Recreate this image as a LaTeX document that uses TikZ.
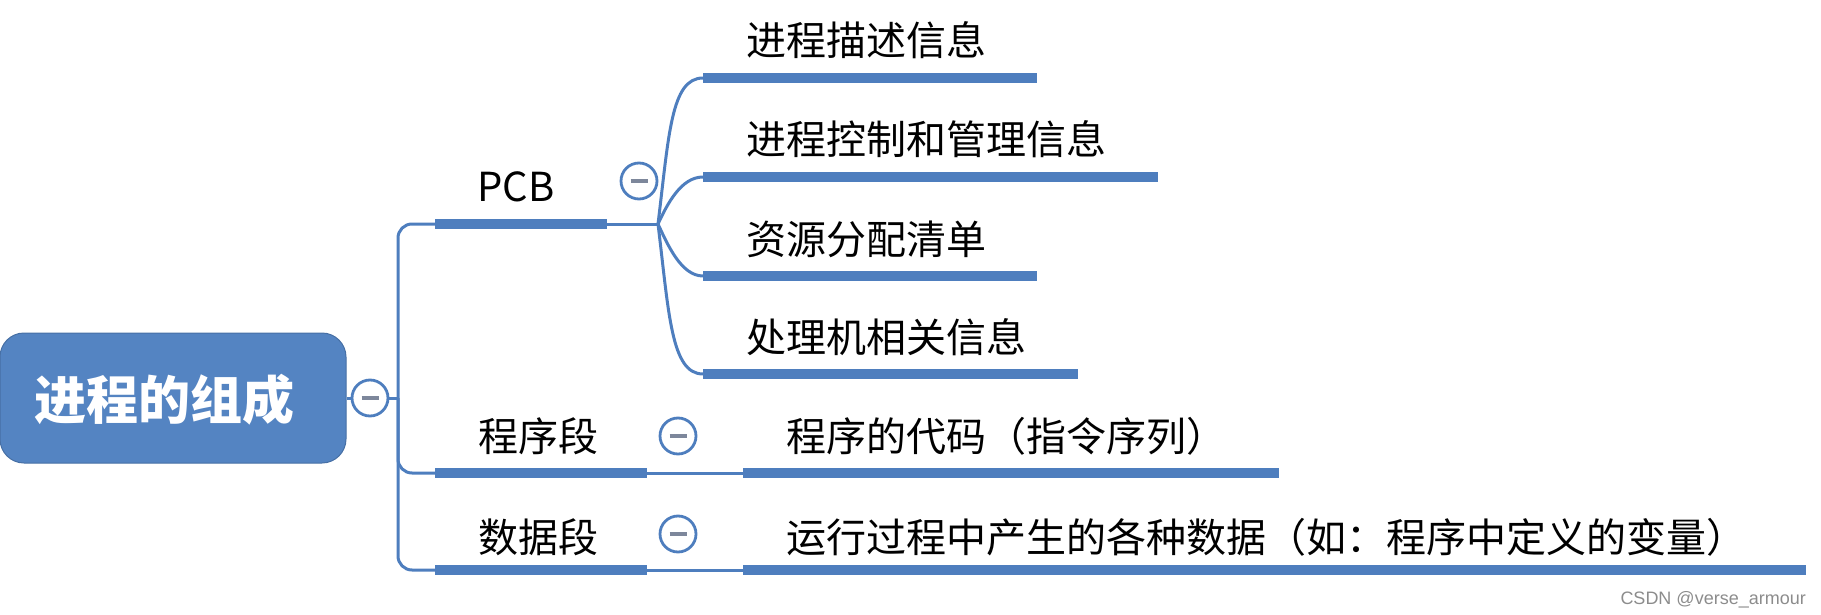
\documentclass[tikz,border=0pt]{standalone}
\usepackage{fontspec}
\newfontfamily\cjk{Noto Sans CJK SC}
\newfontfamily\wmfont{Liberation Sans}
\definecolor{mmblue}{RGB}{78,126,190}
\definecolor{rootblue}{RGB}{84,132,194}
\definecolor{minusgrey}{RGB}{125,135,155}
\begin{document}
\begin{tikzpicture}[x=1pt,y=-1pt,
  bar/.style={fill=mmblue, draw=none, inner sep=0pt, minimum height=10pt, anchor=west},
  conn/.style={draw=mmblue, line width=3pt},
  lbl/.style={anchor=base west, inner sep=0pt, text=black, font=\cjk\fontsize{40}{48}\selectfont},
  fold/.style={circle, draw=mmblue, line width=2.8pt, fill=white, minimum size=36pt, inner sep=0pt}
]
\useasboundingbox (0,0) rectangle (1821,615);

% root
\node[draw=rootblue!85!black, fill=rootblue, rounded corners=24pt, minimum width=346pt, minimum height=130pt, inner sep=0pt, line width=1pt] (root) at (173,398) {};
\node[anchor=base west, inner sep=0pt, text=white, font=\cjk\bfseries\fontsize{52}{60}\selectfont] (roottext) at (34,419) {进程的组成};
\node[fold] (rootfold) at (370,398) {{\color{minusgrey}\rule{17pt}{3.5pt}}};
\coordinate (spine) at (398,398);

% level 2 bars
\node[bar, minimum width=172pt] (pcbbar) at (435,224) {};
\node[bar, minimum width=212pt] (prgbar) at (435,473) {};
\node[bar, minimum width=212pt] (datbar) at (435,570) {};

\node[anchor=base west, inner sep=0pt, font=\cjk\fontsize{40}{48}\selectfont] (pcbtext) at (477,201) {PCB};
\node[lbl] (prgtext) at (478,451) {程序段};
\node[lbl] (dattext) at (478,552) {数据段};

\node[fold] (pcbfold) at (639,181) {{\color{minusgrey}\rule{17pt}{3.5pt}}};
\node[fold] (prgfold) at (678,436) {{\color{minusgrey}\rule{17pt}{3.5pt}}};
\node[fold] (datfold) at (678,534) {{\color{minusgrey}\rule{17pt}{3.5pt}}};

% PCB children
\coordinate (fork) at (658,224);
\node[bar, minimum width=334pt] (c1) at (703,78) {};
\node[bar, minimum width=455pt] (c2) at (703,177) {};
\node[bar, minimum width=334pt] (c3) at (703,276) {};
\node[bar, minimum width=375pt] (c4) at (703,374) {};
\node[lbl] (t1) at (746,56) {进程描述信息};
\node[lbl] (t2) at (746,155) {进程控制和管理信息};
\node[lbl] (t3) at (746,254) {资源分配清单};
\node[lbl] (t4) at (746,352) {处理机相关信息};

% other children
\node[bar, minimum width=536pt] (prgchild) at (743,473) {};
\node[bar, minimum width=1063pt] (datchild) at (743,570) {};
\node[lbl] (prgctext) at (786,451) {程序的代码（指令序列）};
\node[lbl] (datctext) at (786,552) {运行过程中产生的各种数据（如：程序中定义的变量）};

% connectors
\draw[conn] (root.east) -- (rootfold.west);
\draw[conn] (rootfold.east) -- (spine);
\draw[conn, rounded corners=14pt] (spine) |- (pcbbar.west);
\draw[conn, rounded corners=14pt] (spine) |- (prgbar.west);
\draw[conn, rounded corners=14pt] (spine) |- (datbar.west);
\draw[conn] (pcbbar.east) -- (fork);
\draw[conn] (fork) to[out=83, in=180, out distance=90pt, in distance=32pt] (c1.west);
\draw[conn] (fork) to[out=65, in=180, out distance=22pt, in distance=22pt] (c2.west);
\draw[conn] (fork) to[out=-65, in=180, out distance=22pt, in distance=22pt] (c3.west);
\draw[conn] (fork) to[out=-83, in=180, out distance=90pt, in distance=32pt] (c4.west);
\draw[conn] (prgbar.east) -- (prgchild.west);
\draw[conn] (datbar.east) -- (datchild.west);

% watermark
\node[anchor=base east, inner sep=0pt, text=black!45, font=\wmfont\fontsize{18}{20}\selectfont] (wm) at (1806,604) {CSDN @verse\_armour};
\end{tikzpicture}
\end{document}
